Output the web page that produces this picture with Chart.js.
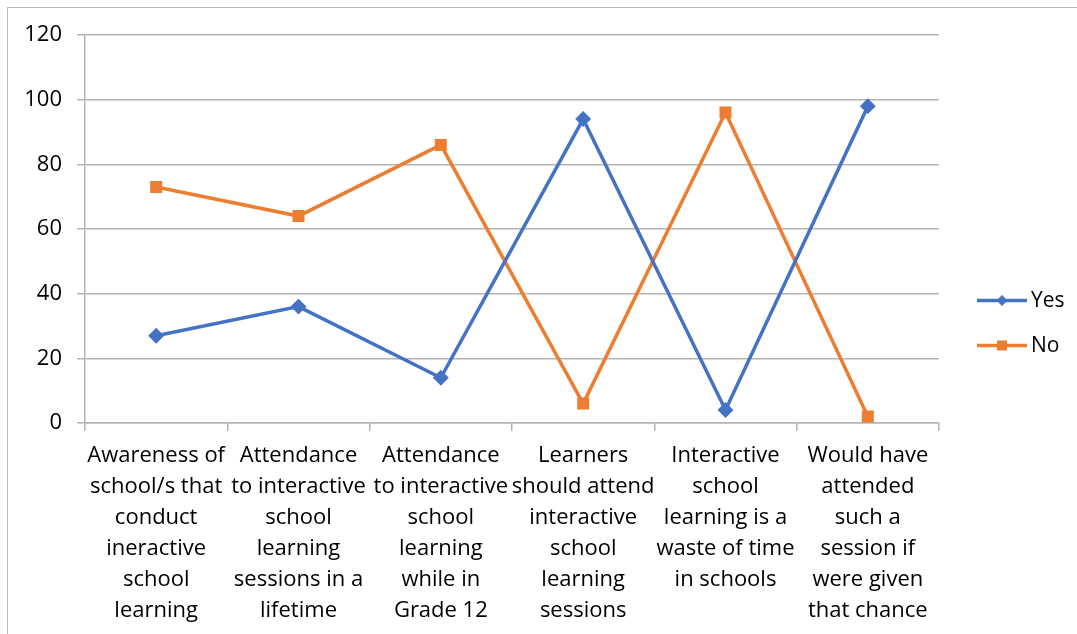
<!DOCTYPE html>
<html>
<head>
<meta charset="utf-8">
<script src="https://cdn.jsdelivr.net/npm/chart.js@4/dist/chart.umd.min.js"></script>
<style>
  html, body { margin: 0; padding: 0; background: #fff; }
  #wrap { position: relative; width: 1077px; height: 634px; overflow: hidden; }
  #frame { position: absolute; left: 7px; top: 7px; width: 1200px; height: 800px;
           border-left: 1px solid #bdbdbd; border-top: 1px solid #bdbdbd; }
  canvas { position: absolute; left: 0; top: 0; }
</style>
</head>
<body>
<div id="wrap">
  <div id="frame"></div>
  <canvas id="chart" width="1077" height="634"></canvas>
</div>
<script>
"use strict";
const categories = [
    ['Awareness of', 'school/s that', 'conduct', 'ineractive', 'school', 'learning'],
    ['Attendance', 'to interactive', 'school', 'learning', 'sessions in a', 'lifetime'],
    ['Attendance', 'to interactive', 'school', 'learning', 'while in', 'Grade 12'],
    ['Learners', 'should attend', 'interactive', 'school', 'learning', 'sessions'],
    ['Interactive', 'school', 'learning is a', 'waste of time', 'in schools'],
    ['Would have', 'attended', 'such a', 'session if', 'were given', 'that chance']
];
const yesValues = [27, 36, 14, 94, 4, 98];
const noValues = [73, 64, 86, 6, 96, 2];
const yTicks = [0, 20, 40, 60, 80, 100, 120];

const FONT = "'Open Sans', Lato, sans-serif";
const BLUE = '#4472C4';
const ORANGE = '#ED7D31';
const GRID = '#b3b3b3';

// legend drawn by hand so it shows line + marker like the original
const sideLegend = {
    id: 'sideLegend',
    afterDraw(chart) {
        const ctx = chart.ctx;
        const area = chart.chartArea;
        const x0 = area.right + 38;
        const midY = (area.top + area.bottom) / 2 + 94;
        chart.data.datasets.forEach((ds, i) => {
            const y = midY + (i - 0.5) * 45;
            ctx.save();
            ctx.strokeStyle = ds.borderColor;
            ctx.lineWidth = 3.5;
            ctx.beginPath();
            ctx.moveTo(x0, y);
            ctx.lineTo(x0 + 50, y);
            ctx.stroke();
            ctx.fillStyle = ds.borderColor;
            ctx.beginPath();
            if (ds.pointStyle === 'rectRot') {
                ctx.moveTo(x0 + 25, y - 5.5);
                ctx.lineTo(x0 + 30.5, y);
                ctx.lineTo(x0 + 25, y + 5.5);
                ctx.lineTo(x0 + 19.5, y);
                ctx.closePath();
                ctx.fill();
            } else {
                ctx.fillRect(x0 + 20, y - 5, 10, 10);
            }
            ctx.fillStyle = '#000';
            ctx.font = '21px ' + FONT;
            ctx.textBaseline = 'middle';
            ctx.fillText(ds.label, x0 + 54, y + 1);
            ctx.restore();
        });
    }
};

new Chart(document.getElementById('chart'), {
    type: 'line',
    data: {
        labels: categories,
        datasets: [
            {
                label: 'Yes',
                data: yesValues,
                borderColor: BLUE,
                backgroundColor: BLUE,
                borderWidth: 3.5,
                pointStyle: 'rectRot',
                pointRadius: 5.5,
                pointHoverRadius: 5.5,
                tension: 0
            },
            {
                label: 'No',
                data: noValues,
                borderColor: ORANGE,
                backgroundColor: ORANGE,
                borderWidth: 3.5,
                pointStyle: 'rect',
                pointRadius: 6,
                pointHoverRadius: 6,
                tension: 0
            }
        ]
    },
    options: {
        responsive: false,
        animation: false,
        layout: { padding: { top: 35, right: 138, left: 0, bottom: 0 } },
        plugins: {
            legend: { display: false },
            tooltip: { enabled: false }
        },
        scales: {
            x: {
                offset: true,
                afterFit: scale => { scale.height = 211; },
                grid: {
                    offset: true,
                    drawOnChartArea: false,
                    drawTicks: true,
                    tickLength: 8,
                    color: GRID,
                    lineWidth: 1.5
                },
                border: { color: GRID, width: 1.5 },
                ticks: {
                    color: '#000',
                    font: { family: FONT, size: 22, lineHeight: 1.41 },
                    padding: 9,
                    maxRotation: 0,
                    autoSkip: false
                }
            },
            y: {
                min: 0,
                max: 120,
                afterFit: scale => { scale.width = 85; },
                afterBuildTicks: scale => { scale.ticks = yTicks.map(v => ({ value: v })); },
                grid: {
                    color: GRID,
                    lineWidth: 1.5,
                    drawTicks: true,
                    tickLength: 8
                },
                border: { color: GRID, width: 1.5 },
                ticks: {
                    color: '#000',
                    font: { family: FONT, size: 22 },
                    padding: 15
                }
            }
        }
    },
    plugins: [sideLegend]
});
</script>
</body>
</html>
